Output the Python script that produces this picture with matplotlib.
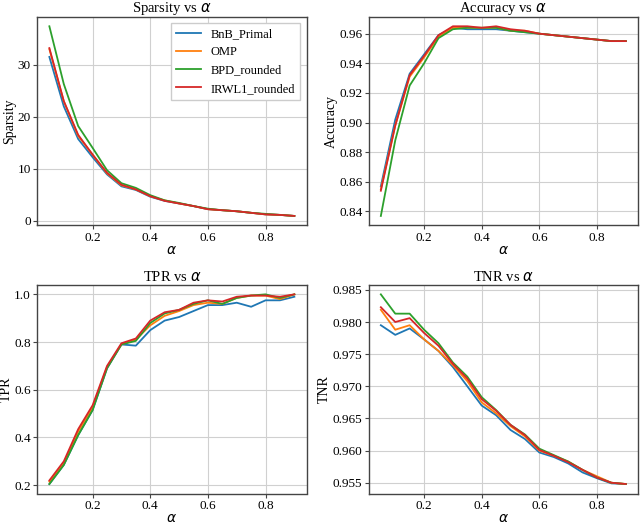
import matplotlib
matplotlib.use('Agg')
import matplotlib.pyplot as plt

plt.rcParams['font.family'] = ['Liberation Serif', 'DejaVu Serif']
plt.rcParams['mathtext.fontset'] = 'dejavusans'

alpha = [0.05, 0.1, 0.15, 0.2, 0.25, 0.3, 0.35, 0.4, 0.45, 0.5,
         0.55, 0.6, 0.65, 0.7, 0.75, 0.8, 0.85, 0.9]
methods = ['BnB_Primal', 'OMP', 'BPD_rounded', 'IRWL1_rounded']
colors = ['#1f77b4', '#ff7f0e', '#2ca02c', '#d62728']

sparsity_bnb = [31.5, 22.0, 15.7, 12.2, 8.9, 6.6, 5.9, 4.6, 3.8, 3.3, 2.8, 2.2, 2.0, 1.8, 1.5, 1.2, 1.1, 0.9]
sparsity_omp = [33.0, 23.0, 16.3, 12.7, 9.1, 6.8, 6.0, 4.7, 3.9, 3.3, 2.8, 2.2, 2.0, 1.8, 1.5, 1.2, 1.1, 0.9]
sparsity_bpd = [37.4, 26.3, 18.2, 14.0, 9.7, 7.2, 6.3, 4.9, 3.9, 3.4, 2.8, 2.3, 2.0, 1.8, 1.5, 1.3, 1.1, 0.9]
sparsity_irwl1 = [33.2, 23.0, 16.5, 12.7, 9.2, 6.9, 6.0, 4.7, 3.8, 3.3, 2.8, 2.2, 2.0, 1.8, 1.5, 1.2, 1.1, 0.9]

accuracy_bnb = [0.857, 0.902, 0.933, 0.946, 0.959, 0.964, 0.963, 0.963, 0.963, 0.962, 0.961, 0.960, 0.959, 0.958, 0.957, 0.956, 0.955, 0.955]
accuracy_omp = [0.855, 0.898, 0.931, 0.944, 0.958, 0.964, 0.964, 0.964, 0.964, 0.962, 0.962, 0.960, 0.959, 0.958, 0.957, 0.956, 0.955, 0.955]
accuracy_bpd = [0.837, 0.888, 0.925, 0.940, 0.957, 0.963, 0.964, 0.964, 0.964, 0.962, 0.961, 0.960, 0.959, 0.958, 0.957, 0.956, 0.955, 0.955]
accuracy_irwl1 = [0.854, 0.898, 0.932, 0.945, 0.959, 0.965, 0.965, 0.964, 0.965, 0.963, 0.962, 0.960, 0.959, 0.958, 0.957, 0.956, 0.955, 0.955]

tpr_bnb = [0.205, 0.285, 0.41, 0.515, 0.69, 0.79, 0.785, 0.85, 0.89, 0.905, 0.93, 0.955, 0.955, 0.965, 0.948, 0.975, 0.975, 0.99]
tpr_omp = [0.215, 0.29, 0.425, 0.525, 0.695, 0.79, 0.81, 0.87, 0.91, 0.93, 0.955, 0.965, 0.96, 0.985, 0.995, 0.995, 0.98, 1.0]
tpr_bpd = [0.205, 0.285, 0.41, 0.515, 0.69, 0.79, 0.805, 0.88, 0.92, 0.935, 0.96, 0.975, 0.96, 0.985, 0.995, 1.0, 0.985, 1.0]
tpr_irwl1 = [0.22, 0.30, 0.435, 0.535, 0.70, 0.795, 0.815, 0.89, 0.925, 0.935, 0.965, 0.975, 0.97, 0.99, 0.995, 0.995, 0.99, 1.0]

tnr_bnb = [0.9795, 0.9780, 0.9790, 0.9773, 0.9755, 0.9730, 0.9700, 0.9670, 0.9655, 0.9632, 0.9618, 0.9597, 0.9590, 0.9580, 0.9566, 0.9557, 0.9549, 0.9548]
tnr_omp = [0.9819, 0.9788, 0.9795, 0.9773, 0.9755, 0.9733, 0.9708, 0.9675, 0.9658, 0.9638, 0.9622, 0.9600, 0.9592, 0.9583, 0.9570, 0.9560, 0.9550, 0.9548]
tnr_bpd = [0.9843, 0.9813, 0.9813, 0.9788, 0.9767, 0.9737, 0.9715, 0.9683, 0.9663, 0.9640, 0.9625, 0.9603, 0.9593, 0.9583, 0.9570, 0.9558, 0.9550, 0.9548]
tnr_irwl1 = [0.9823, 0.9800, 0.9806, 0.9783, 0.9763, 0.9735, 0.9712, 0.9680, 0.9662, 0.9640, 0.9624, 0.9601, 0.9592, 0.9582, 0.9570, 0.9558, 0.9550, 0.9548]

# tick positions
x_ticks = [0.2, 0.4, 0.6, 0.8]
sparsity_ticks = [0, 10, 20, 30]
accuracy_ticks = [0.84, 0.86, 0.88, 0.90, 0.92, 0.94, 0.96]
tpr_ticks = [0.2, 0.4, 0.6, 0.8, 1.0]
tnr_ticks = [0.955, 0.960, 0.965, 0.970, 0.975, 0.980, 0.985]

panels = [
    ('Sparsity', [sparsity_bnb, sparsity_omp, sparsity_bpd, sparsity_irwl1], sparsity_ticks, '{:.0f}'),
    ('Accuracy', [accuracy_bnb, accuracy_omp, accuracy_bpd, accuracy_irwl1], accuracy_ticks, '{:.2f}'),
    ('TPR', [tpr_bnb, tpr_omp, tpr_bpd, tpr_irwl1], tpr_ticks, '{:.1f}'),
    ('TNR', [tnr_bnb, tnr_omp, tnr_bpd, tnr_irwl1], tnr_ticks, '{:.3f}'),
]

fig, axes = plt.subplots(2, 2, figsize=(6.4, 5.25), dpi=100)
fig.subplots_adjust(left=0.058, right=0.997, top=0.968, bottom=0.06,
                    wspace=0.23, hspace=0.285)

for ax, (name, series, yt, fmt) in zip(axes.flat, panels):
    for vals, label, c in zip(series, methods, colors):
        ax.plot(alpha, vals, color=c, lw=1.3, label=label)
    ax.set_title(f'{name} vs $\\alpha$', fontsize=10.5, pad=3)
    ax.set_xlabel('$\\alpha$', fontsize=10, labelpad=0)
    ax.set_ylabel(name, fontsize=10, labelpad=1)
    ax.set_xticks(x_ticks)
    ax.set_yticks(yt)
    ax.set_yticklabels([fmt.format(t) for t in yt])
    ax.tick_params(labelsize=9.5, length=3, width=0.8, color='#444444', pad=1.5)
    ax.grid(True, color='#d0d0d0', lw=0.8)
    ax.set_axisbelow(True)
    for s in ax.spines.values():
        s.set_color('#444444')
        s.set_linewidth(1.0)

axes[0, 0].legend(loc='upper right', fontsize=9, framealpha=1.0,
                  edgecolor='#cccccc', fancybox=False)

fig.savefig('out.png')
